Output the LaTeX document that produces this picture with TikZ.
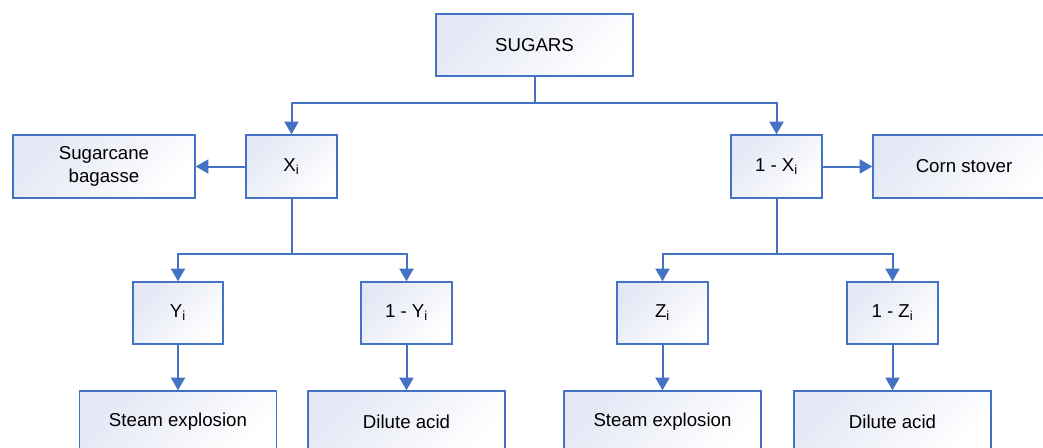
\documentclass[tikz,border=0pt]{standalone}
\usepackage{fontspec}
\setmainfont{Liberation Sans}
\usetikzlibrary{arrows.meta}
\definecolor{boxline}{RGB}{68,114,196}
\definecolor{boxtint}{RGB}{228,231,245}
\tikzset{
  box/.style 2 args={draw=boxline, line width=1.1pt, shading=axis,
    top color=boxtint, bottom color=white, shading angle=45,
    minimum width=#1*0.75pt, minimum height=#2*0.75pt, inner sep=0pt,
    align=center, font=\fontsize{14pt}{17pt}\selectfont},
  link/.style={draw=boxline, line width=1.5pt},
  arrow/.style={link, -{Triangle[width=10.5pt,length=9.5pt]}}
}
\begin{document}
\begin{tikzpicture}[x=0.75pt, y=-0.75pt]
  \useasboundingbox (0,0) rectangle (1043,447);
  \clip (0,0) rectangle (1043,447);
  % top level
  \node[box={197}{62}] (sugars) at (534.5,45) {SUGARS};
  % second level
  \node[box={182}{63}] (cane)  at (104,166.5)   {Sugarcane\\bagasse};
  \node[box={91}{63}]  (xi)    at (291.5,166.5) {X\textsubscript{i}};
  \node[box={91}{63}]  (nxi)   at (776.5,166.5) {1 - X\textsubscript{i}};
  \node[box={182}{63}] (corn)  at (964,166.5)   {Corn stover};
  % third level
  \node[box={90}{62}]  (yi)    at (178,313)     {Y\textsubscript{i}};
  \node[box={91}{62}]  (nyi)   at (406.5,313)   {1 - Y\textsubscript{i}};
  \node[box={91}{62}]  (zi)    at (662.5,313)   {Z\textsubscript{i}};
  \node[box={91}{62}]  (nzi)   at (892.5,313)   {1 - Z\textsubscript{i}};
  % pretreatments
  \node[box={197}{62}] (steamA) at (178,422)    {Steam explosion};
  \node[box={197}{62}] (acidA)  at (406.5,422)  {Dilute acid};
  \node[box={197}{62}] (steamB) at (662.5,422)  {Steam explosion};
  \node[box={197}{62}] (acidB)  at (892.5,422)  {Dilute acid};

  % branching junctions
  \coordinate (j0) at (534.5,102.5);
  \coordinate (j1) at (291.5,254);
  \coordinate (j2) at (776.5,254);

  \draw[link]  (sugars.south) -- (j0);
  \draw[arrow] (j0) -| (xi.north);
  \draw[arrow] (j0) -| (nxi.north);
  \draw[arrow] (xi.west) -- (cane.east);
  \draw[arrow] (nxi.east) -- (corn.west);

  \draw[link]  (xi.south) -- (j1);
  \draw[arrow] (j1) -| (yi.north);
  \draw[arrow] (j1) -| (nyi.north);
  \draw[link]  (nxi.south) -- (j2);
  \draw[arrow] (j2) -| (zi.north);
  \draw[arrow] (j2) -| (nzi.north);

  \draw[arrow] (yi.south) -- (steamA.north);
  \draw[arrow] (nyi.south) -- (acidA.north);
  \draw[arrow] (zi.south) -- (steamB.north);
  \draw[arrow] (nzi.south) -- (acidB.north);
\end{tikzpicture}
\end{document}
